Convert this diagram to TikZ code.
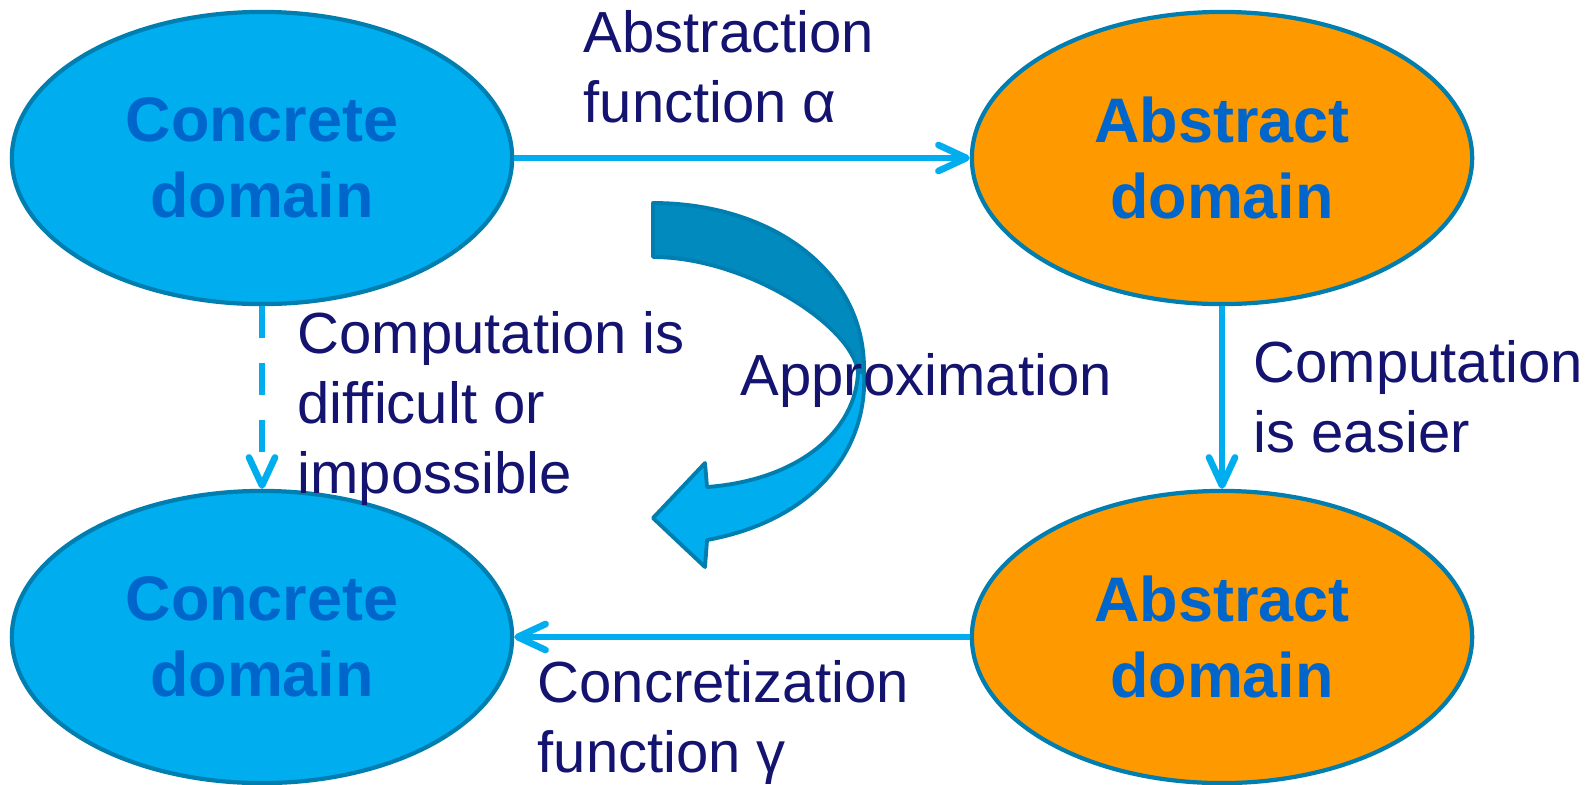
\documentclass[tikz,border=0pt]{standalone}
\usepackage{fontspec}
\setmainfont{Liberation Sans}
\usetikzlibrary{arrows.meta,shapes.geometric}
\definecolor{cyanfill}{RGB}{0,174,239}
\definecolor{rimblue}{RGB}{0,126,176}
\definecolor{orangefill}{RGB}{255,153,0}
\definecolor{nodetext}{RGB}{0,102,204}
\definecolor{navy}{RGB}{20,20,112}
\definecolor{darkband}{RGB}{0,138,190}
\begin{document}
\begin{tikzpicture}[x=0.01cm,y=-0.01cm,
  domainbox/.style={ellipse, draw=rimblue, line width=1.2pt,
    minimum width=5cm, minimum height=2.92cm, inner sep=0pt,
    align=center, text=nodetext,
    font=\fontsize{17.9pt}{21.5pt}\selectfont\bfseries},
  concretebox/.style={domainbox, fill=cyanfill},
  abstractbox/.style={domainbox, fill=orangefill},
  flow/.style={draw=cyanfill, line width=1.9pt,
    -{Straight Barb[length=0.28cm, width=0.26cm, round]}},
  labeltext/.style={anchor=base west, align=left, text=navy, inner sep=0pt,
    font=\fontsize{16.5pt}{19.9pt}\selectfont},
  bandedge/.style={draw=rimblue, line width=1.1pt, line join=round}]

\useasboundingbox (0,0) rectangle (1589,784);

% the four domains
\node[concretebox] (c1) at (262,158) {Concrete\\domain};
\node[abstractbox] (a1) at (1222,158) {Abstract\\domain};
\node[concretebox] (c2) at (262,637) {Concrete\\domain};
\node[abstractbox] (a2) at (1222,637) {Abstract\\domain};

% connectors
\draw[flow] (c1.east) -- (a1.west);
\draw[flow] (a1.south) -- (a2.north);
\draw[flow] (a2.west) -- (c2.east);
\draw[flow, dash pattern=on 0.32cm off 0.25cm] (c1.south) -- (c2.north);

% big curved "approximation" arrow: front (light) part with the head
\filldraw[bandedge, fill=cyanfill]
  (707,487) -- (705,463) -- (653,518) -- (705,567) -- (707,540)
  .. controls (815,520) and (868,450) .. (864,372)
  -- (858,372)
  .. controls (856,430) and (800,480) .. (707,487) -- cycle;
% back (dark) part with the tail
\filldraw[bandedge, fill=darkband]
  (653,203) .. controls (770,203) and (866,270) .. (864,372)
  -- (858,372)
  .. controls (852,325) and (745,257) .. (653,257) -- cycle;

% labels (positioned at the baseline of their last line)
\node[labeltext] (labAbs) at (583,122) {Abstraction\\function α};
\node[labeltext] (labHard) at (297,493) {Computation is\\difficult or\\impossible};
\node[labeltext] (labEasy) at (1253,452) {Computation\\is easier};
\node[labeltext] (labConc) at (537,772) {Concretization\\function γ};
\node[labeltext] (labApprox) at (740,395) {Approximation};
\end{tikzpicture}
\end{document}
